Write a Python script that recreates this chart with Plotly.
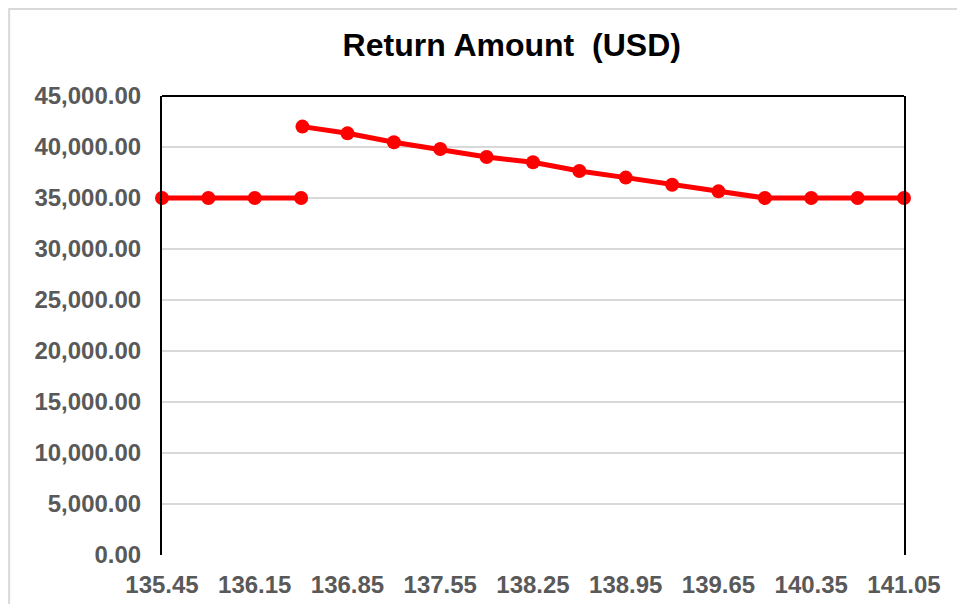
import plotly.graph_objects as go

# Data
price_low = [135.45, 135.80, 136.15, 136.50]
return_low = [35000, 35000, 35000, 35000]

price_high = [136.51, 136.85, 137.20, 137.55, 137.90, 138.25, 138.60,
              138.95, 139.30, 139.65, 140.00, 140.35, 140.70, 141.05]
return_high = [42000, 41340, 40460, 39800, 39020, 38500, 37650,
               37000, 36300, 35650, 35000, 35000, 35000, 35000]

x_ticks = [135.45, 136.15, 136.85, 137.55, 138.25, 138.95, 139.65, 140.35, 141.05]
y_ticks = [0, 5000, 10000, 15000, 20000, 25000, 30000, 35000, 40000, 45000]

FONT = "Liberation Sans, Arial, sans-serif"
RED = "#ff0000"
GRID = "#d9d9d9"

fig = go.Figure()
for xs, ys in [(price_low, return_low), (price_high, return_high)]:
    fig.add_trace(go.Scatter(
        x=xs, y=ys, mode="lines+markers",
        line=dict(color=RED, width=5),
        marker=dict(color=RED, size=14),
        cliponaxis=False, showlegend=False,
    ))

fig.update_layout(
    width=965, height=604,
    margin=dict(l=154, r=69, t=88, b=57),
    paper_bgcolor="white", plot_bgcolor="white",
    title=dict(text="Return Amount  (USD)", x=0.522, xref="container", xanchor="center",
               y=0.939, yref="container", yanchor="middle",
               font=dict(family=FONT, size=32, color="black", weight="bold")),
    xaxis=dict(range=[135.45, 141.05], tickvals=x_ticks,
               ticktext=[f"{v:.2f}" for v in x_ticks],
               showgrid=False, zeroline=False, showline=False,
               ticks="", ticklabelstandoff=13,
               tickfont=dict(family=FONT, size=24, color="#595959", weight="bold")),
    yaxis=dict(range=[0, 45000], tickvals=y_ticks,
               ticktext=[f"{v:,.2f}" for v in y_ticks],
               showgrid=True, gridcolor=GRID, gridwidth=1.5,
               zeroline=False, showline=True, linecolor="black", linewidth=2,
               mirror=True, ticks="", ticklabelstandoff=14,
               tickfont=dict(family=FONT, size=24, color="#595959", weight="bold")),
    shapes=[
        dict(type="line", xref="paper", yref="paper", x0=0, x1=1, y0=1, y1=1,
             line=dict(color="black", width=2), layer="above"),
        dict(type="rect", xref="paper", yref="paper",
             x0=-0.206, x1=1.0795, y0=-0.13, y1=1.1895,
             line=dict(color=GRID, width=2), layer="below"),
    ],
)

fig.write_html("out.html")
